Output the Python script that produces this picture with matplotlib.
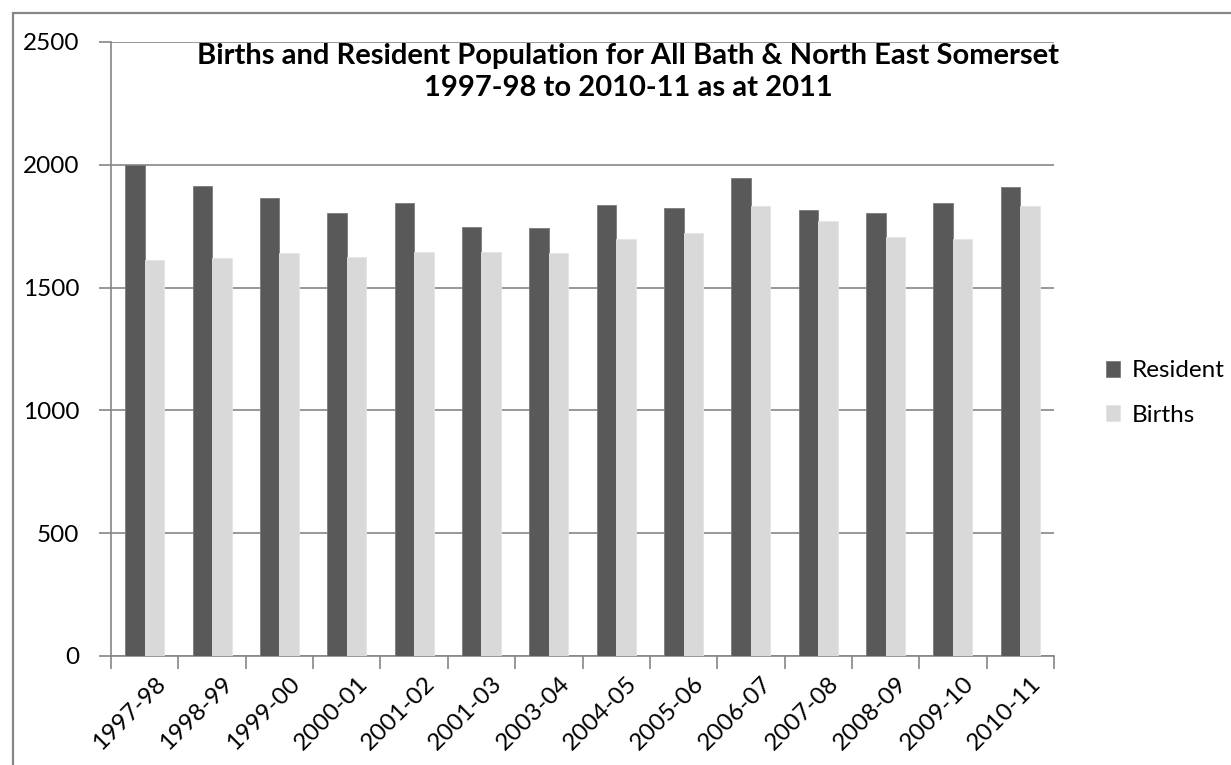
import numpy as np
import matplotlib.pyplot as plt
from matplotlib.patches import Rectangle
from matplotlib.transforms import ScaledTranslation

years = ['1997-98', '1998-99', '1999-00', '2000-01', '2001-02', '2001-03', '2003-04',
         '2004-05', '2005-06', '2006-07', '2007-08', '2008-09', '2009-10', '2010-11']
resident = [2000, 1913, 1863, 1803, 1844, 1746, 1742, 1838, 1823, 1948, 1817, 1803, 1844, 1908]
births = [1612, 1621, 1640, 1625, 1645, 1645, 1640, 1696, 1722, 1832, 1772, 1705, 1697, 1832]

plt.rcParams['font.family'] = ['Lato', 'DejaVu Sans']
grey = '#868686'

fig = plt.figure(figsize=(12.31, 7.65), dpi=100)
ax = fig.add_axes([0.0902, 0.1425, 0.766, 0.8026])

x = np.arange(len(years))
w = 0.29
ax.bar(x - w / 2, resident, w, color='#595959', edgecolor='#7a7a7a', linewidth=0.6, label='Resident', zorder=3)
ax.bar(x + w / 2, births, w, color='#d9d9d9', edgecolor='#e4e4e4', linewidth=0.6, label='Births', zorder=3)

ax.set_xlim(-0.5, len(years) - 0.5)
ax.set_ylim(0, 2500)
ax.set_yticks(range(0, 2501, 500))
ax.yaxis.grid(True, color=grey, linewidth=1.2, zorder=0)

# labels under the middle, tick marks between categories (Excel style)
ax.set_xticks(x, years, rotation=45, ha='right', rotation_mode='anchor')
ax.set_xticks(np.arange(-0.5, len(years)), minor=True)
ax.tick_params(axis='x', which='major', length=0, pad=12, labelsize=17.5)
ax.tick_params(axis='x', which='minor', length=9, color=grey, width=1.2)
ax.tick_params(axis='y', length=9, color=grey, width=1.2, pad=14, labelsize=17.5)
shift = ScaledTranslation(10 / 100, 0, fig.dpi_scale_trans)
for lab in ax.get_xticklabels():
    lab.set_transform(lab.get_transform() + shift)

for s in ['top', 'right']:
    ax.spines[s].set_visible(False)
for s in ['left', 'bottom']:
    ax.spines[s].set_color(grey)
    ax.spines[s].set_linewidth(1.2)

fig.text(628 / 1231, 1 - 43 / 765,
         'Births and Resident Population for All Bath & North East Somerset\n1997-98 to 2010-11 as at 2011',
         ha='center', va='top', fontsize=21, fontweight='bold', linespacing=1.3)

fig.legend(loc='center left', bbox_to_anchor=(1084 / 1231, 1 - 393 / 765), frameon=False,
           fontsize=17.5, handlelength=0.6, handleheight=0.6, handletextpad=0.45, labelspacing=0.95)

fig.patches.append(Rectangle((13 / 1231, -0.1), 1.2, 1.1 - 13 / 765, transform=fig.transFigure,
                             fill=False, edgecolor=grey, linewidth=1.6))

fig.savefig('out.png', dpi=100)
